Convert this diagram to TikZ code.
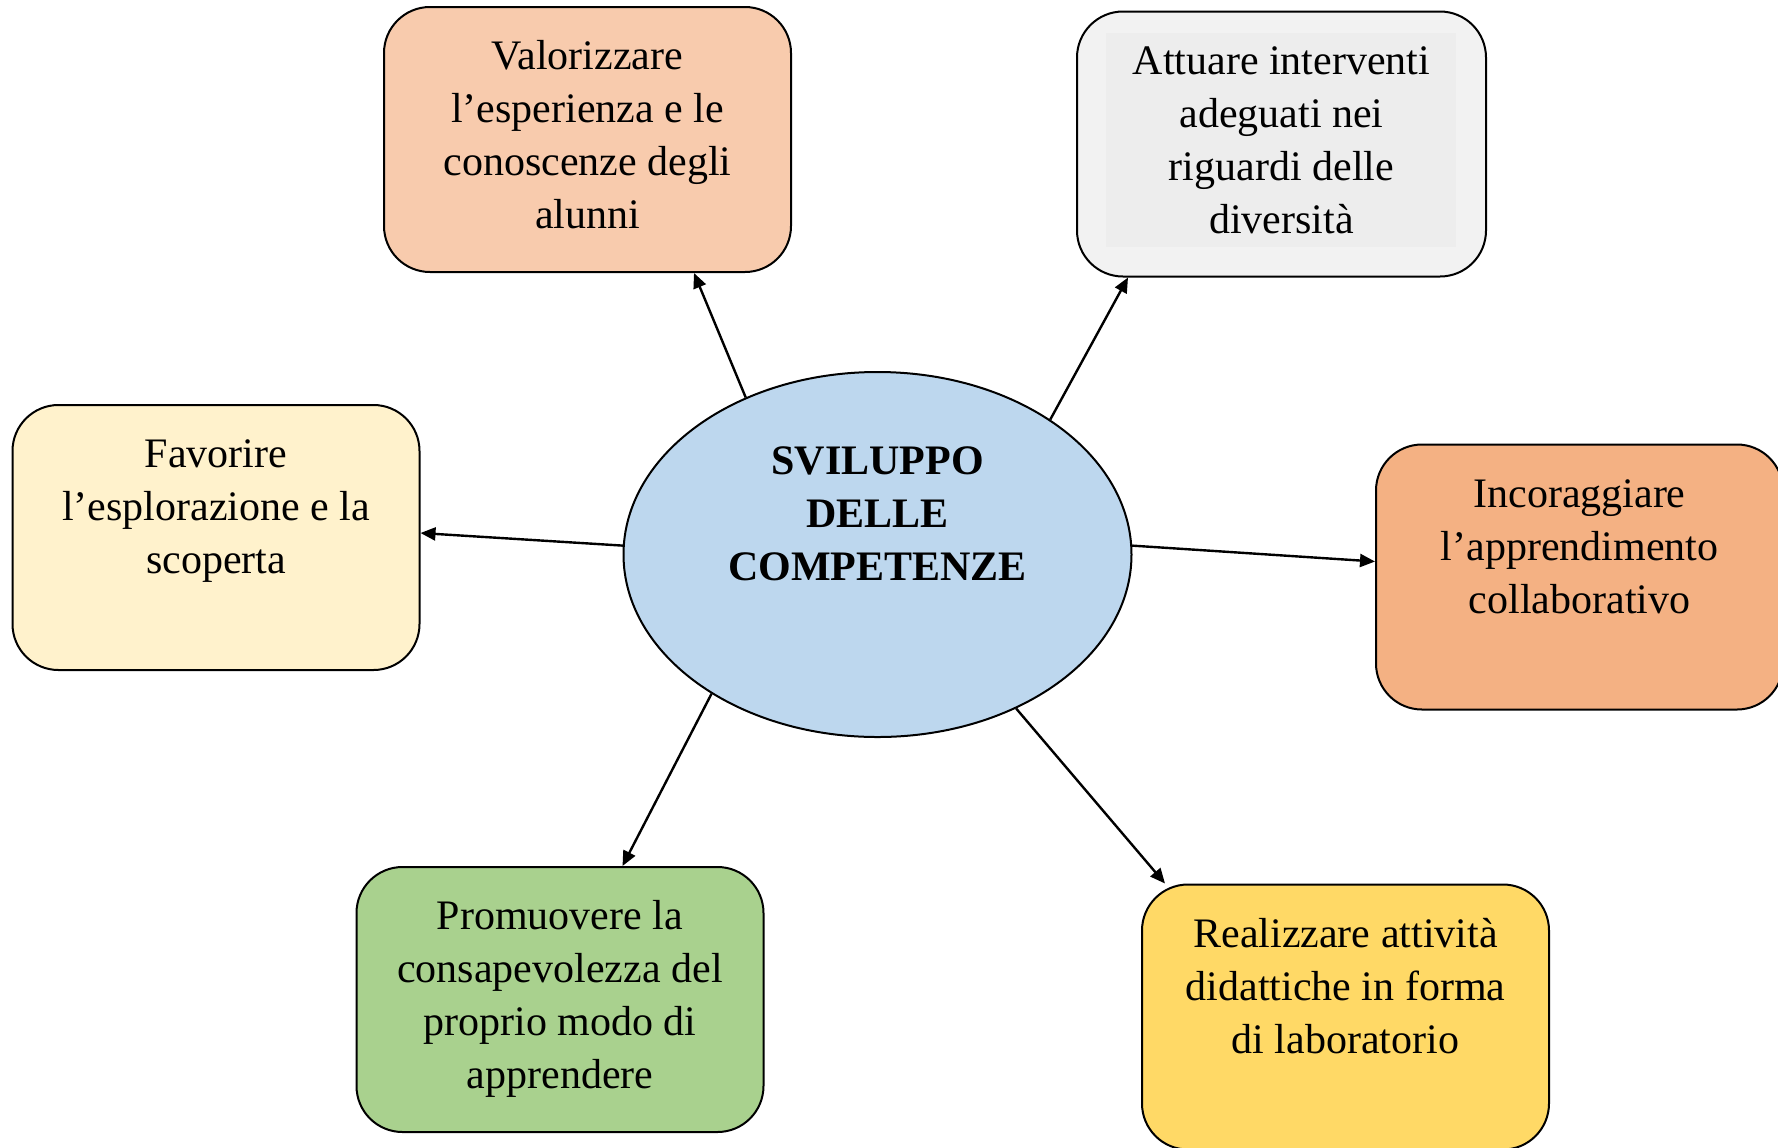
\documentclass[tikz,border=0pt]{standalone}
\usepackage{fontspec}
\setmainfont{Liberation Serif}
\usetikzlibrary{arrows.meta,shapes.geometric,calc}
\definecolor{cvalo}{HTML}{F8CBAD}
\definecolor{cattu}{HTML}{F2F2F2}
\definecolor{cattuin}{HTML}{EDEDED}
\definecolor{cfavo}{HTML}{FFF2CC}
\definecolor{cinco}{HTML}{F4B183}
\definecolor{cprom}{HTML}{A9D18E}
\definecolor{creal}{HTML}{FFD966}
\definecolor{cell}{HTML}{BDD7EE}
\tikzset{
  box/.style={draw=black, line width=1pt, rounded corners=23pt, minimum width=203.5pt, minimum height=132.5pt, inner sep=0pt},
  boxtext/.style={anchor=north, inner sep=0pt, align=center, font=\fontsize{21}{26.5}\selectfont},
  conn/.style={line width=1.2pt, -{Triangle[length=7.5pt,width=6.5pt]}}
}
\begin{document}
\begin{tikzpicture}[x=0.5pt,y=-0.5pt]
\clip (0,0) rectangle (1778,1147);
\fill[white] (0,0) rectangle (1778,1147);
% boxes
\node[box, fill=cvalo] (v) at (587.5,139.5) {};
\node[box, fill=cattu, minimum width=204.5pt] (a) at (1281.5,144) {};
\fill[cattuin] (1106,33) rectangle (1456,247);
\node[box, fill=cfavo] (f) at (216,537.5) {};
\node[box, fill=cinco] (i) at (1579.5,577) {};
\node[box, fill=cprom] (p) at (560,999.5) {};
\node[box, fill=creal] (r) at (1345.5,1017) {};
% texts
\node[boxtext] (tv) at ([yshift=-13pt]v.north) {\strut Valorizzare\\l’esperienza e le\\conoscenze degli\\alunni};
\node[boxtext] (ta) at ([yshift=-13pt]a.north) {\strut Attuare interventi\\adeguati nei\\riguardi delle\\diversità};
\node[boxtext] (tf) at ([yshift=-13pt]f.north) {\strut Favorire\\l’esplorazione e la\\scoperta};
\node[boxtext] (ti) at ([yshift=-13pt]i.north) {\strut Incoraggiare\\l’apprendimento\\collaborativo};
\node[boxtext] (tp) at ([yshift=-13pt]p.north) {\strut Promuovere la\\consapevolezza del\\proprio modo di\\apprendere};
\node[boxtext] (tr) at ([yshift=-13pt]r.north) {\strut Realizzare attività\\didattiche in forma\\di laboratorio};
% ellipse
\node[ellipse, draw=black, line width=1pt, fill=cell, minimum width=254pt, minimum height=182.5pt, inner sep=0pt] (e) at (877.5,554.5) {};
\node[boxtext, font=\fontsize{21}{26.5}\selectfont\bfseries] (te) at ([yshift=59pt]e.center) {\strut SVILUPPO\\DELLE\\COMPETENZE};
% connectors
\draw[conn] (e.130.5) -- ([xshift=155.5pt]v.south west);
\draw[conn] (e.38.4) -- ([xshift=26pt]a.south west);
\draw[conn] (e.178) -- ([yshift=-64.5pt]f.north east);
\draw[conn] (e.2) -- ([yshift=-59pt]i.north west);
\draw[conn] (e.220.2) -- ([xshift=133.5pt]p.north west);
\draw[conn] (e.312.4) -- ([xshift=12pt]r.north west);
\end{tikzpicture}
\end{document}
